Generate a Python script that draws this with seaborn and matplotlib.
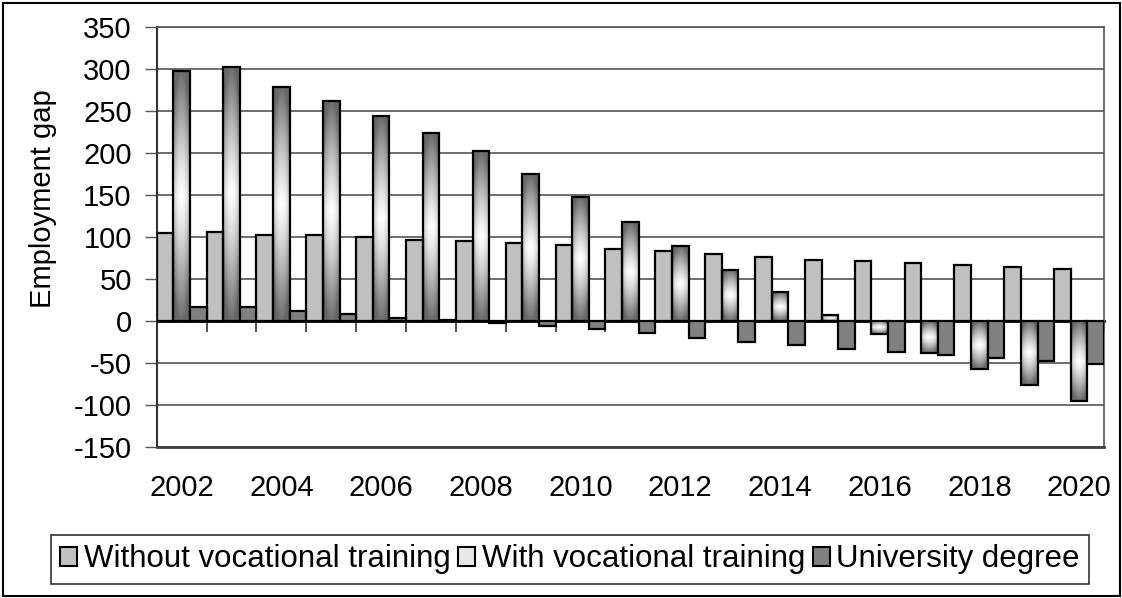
import numpy as np
import pandas as pd
import matplotlib
matplotlib.use('Agg')
import matplotlib.pyplot as plt
import seaborn as sns
from matplotlib.patches import Rectangle, Patch
from matplotlib.ticker import MultipleLocator

# ---------------------- 数据 ----------------------
years = [str(y) for y in range(2002, 2021)]
series_names = ['Without vocational training', 'With vocational training', 'University degree']
without_vt = [105, 106, 103, 102, 100, 97, 95, 93, 90, 86, 83, 80, 76, 73, 71, 69, 67, 64, 62]
with_vt = [298, 303, 279, 262, 244, 224, 202, 175, 148, 118, 89, 61, 34, 7, -16, -38, -57, -77, -96]
university = [16, 16, 12, 8, 4, 1, -2, -6, -10, -15, -20, -25, -29, -33, -37, -41, -44, -48, -51]

df = pd.DataFrame({
    'year': years * 3,
    'series': np.repeat(series_names, len(years)),
    'gap': without_vt + with_vt + university,
})

# ---------------------- 样式 ----------------------
plt.rcParams['font.family'] = ['Liberation Sans', 'DejaVu Sans']
plt.rcParams['axes.unicode_minus'] = False
colors = {'Without vocational training': '#C0C0C0',
          'With vocational training': '#FFFFFF',
          'University degree': '#808080'}

fig = plt.figure(figsize=(11.22, 5.98), dpi=100)
ax = fig.add_axes([0.1397, 0.253, 0.8443, 0.7013])

sns.barplot(data=df, x='year', y='gap', hue='series', palette=colors,
            width=1.0, edgecolor='black', linewidth=1.6, saturation=1,
            legend=False, ax=ax, zorder=3)


# 渐变填充（中心白，四周灰）
def gradient_img(n=80):
    u = np.abs(np.linspace(-1, 1, n))
    v = np.abs(np.linspace(-1, 1, n))
    U, V = np.meshgrid(u, v)
    t = np.clip(0.95 * V ** 1.2 + 0.4 * U ** 2, 0, 1)
    dark = 0.40
    g = 1 - (1 - dark) * t
    return np.dstack([g, g, g])


grad = gradient_img()
for bar in ax.containers[1]:
    x0, w = bar.get_x(), bar.get_width()
    y0, h = bar.get_y(), bar.get_height()
    ylo, yhi = min(y0, y0 + h), max(y0, y0 + h)
    bar.set_facecolor('none')
    im = ax.imshow(grad, extent=[x0, x0 + w, ylo, yhi], aspect='auto',
                   zorder=2.9, interpolation='bilinear')
    im.set_clip_path(bar)

# ---------------------- 坐标轴 ----------------------
ax.set_xlim(-0.5, len(years) - 0.5)
ax.set_ylim(-150, 350)
ax.yaxis.set_major_locator(MultipleLocator(50))
ax.tick_params(axis='y', labelsize=21, length=9, width=1, color='#555555', pad=9)
ax.grid(axis='y', color='#555555', linewidth=1.2, zorder=0)
ax.set_axisbelow(True)

ax.set_xticks(range(0, len(years), 2))
ax.set_xticklabels(years[::2])
ax.tick_params(axis='x', labelsize=21, length=0, pad=20)
ax.set_xlabel('')
ax.set_ylabel('')

for side in ['top', 'right']:
    ax.spines[side].set_color('#555555')
    ax.spines[side].set_linewidth(1.2)
ax.spines['bottom'].set_color('#404040')
ax.spines['bottom'].set_linewidth(2)
ax.spines['left'].set_color('#333333')
ax.spines['left'].set_linewidth(1.5)

# 零线上的刻度（类别之间，向下）
zero_frac = (0 - ax.get_ylim()[0]) / (ax.get_ylim()[1] - ax.get_ylim()[0])
sec = ax.secondary_xaxis(zero_frac)
sec.set_xticks(np.arange(-0.5, len(years), 1.0), labels=[])
sec.xaxis.set_ticks_position('bottom')
sec.tick_params(axis='x', which='both', bottom=True, top=False, direction='out',
                length=8, width=1.2, color='#333333',
                labelbottom=False, labeltop=False)
for side in ['top', 'bottom']:
    sec.spines[side].set_color('black')
    sec.spines[side].set_linewidth(2)
    sec.spines[side].set_zorder(4)

fig.text(43 / 1122, 1 - 199 / 598, 'Employment gap', rotation=90,
         ha='center', va='center', fontsize=21)

# 图例
handles = [Patch(facecolor=colors[s], edgecolor='black', linewidth=1.5) for s in series_names]
handles[1] = Patch(facecolor='#E8E8E8', edgecolor='black', linewidth=1.5)
leg = fig.legend(handles, series_names, loc='center', bbox_to_anchor=(0.508, 0.0644),
                 ncol=3, fontsize=22.5, frameon=True, fancybox=False, edgecolor='black',
                 handlelength=0.55, handleheight=0.55, handletextpad=0.2,
                 columnspacing=0.25, borderpad=0.3, borderaxespad=0)
leg.get_frame().set_linewidth(1.2)

# 外框
fig.patches.append(Rectangle((0.0025, 0.004), 0.9955, 0.991, transform=fig.transFigure,
                             fill=False, edgecolor='black', linewidth=1.5))

plt.savefig('out.png', dpi=100)
